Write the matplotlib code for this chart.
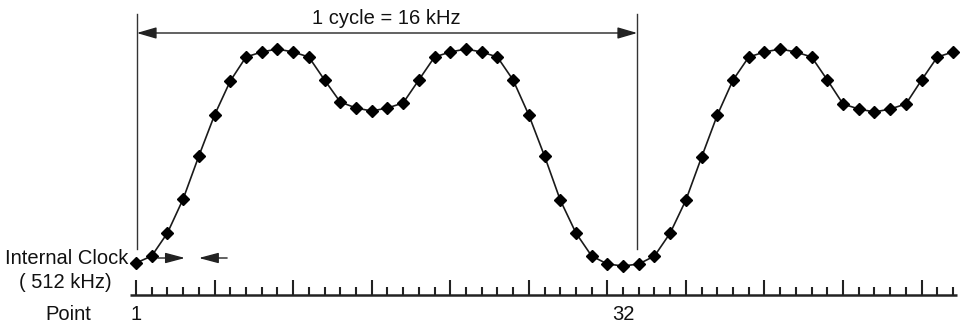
import matplotlib
matplotlib.use("Agg")
import matplotlib.pyplot as plt
import numpy as np

# ---- data ----
points = list(range(1, 54))
levels = [3, 10, 33, 67, 110, 151, 185, 209, 214, 217, 214, 209, 186, 164, 158, 155,
          158, 163, 186, 209, 214, 217, 214, 209, 186, 151, 110, 66, 33, 10, 2, 0,
          2, 10, 33, 66, 109, 151, 186, 209, 214, 217, 214, 209, 186, 162, 157, 154,
          157, 162, 186, 209, 214]
tick_label_points = [1, 32]
tick_labels = ["1", "32"]
cycle_start, cycle_end = 1.05, 32.9
cycle_label = "1 cycle = 16 kHz"

FONT = ["Liberation Sans Narrow", "Liberation Sans", "DejaVu Sans"]
plt.rcParams["font.family"] = FONT

fig = plt.figure(figsize=(9.6, 3.29), dpi=100)
ax = fig.add_axes([0, 0, 1, 1])
step = 15.712
ax.set_xlim(1 - 136 / step, 1 + 824 / step)
ax.set_ylim(-63, 266)
ax.axis("off")

# waveform
ax.plot(points, levels, color="#1a1a1a", lw=1.2, marker="D", markersize=5.8,
        markerfacecolor="black", markeredgecolor="black", zorder=3)

# vertical cycle markers
for xv in (cycle_start, cycle_end):
    ax.plot([xv, xv], [17, 252], color="#333333", lw=1.0)

# cycle arrow
ax.annotate("", xy=(cycle_start, 233), xytext=(cycle_end, 233),
            arrowprops=dict(arrowstyle="<|-|>,head_length=1.2,head_width=0.35",
                            color="#222222", lw=1.0, shrinkA=0, shrinkB=0))
ax.text(16.95, 247, cycle_label, ha="center", va="center", fontsize=14.5, color="#111111")

# clock interval arrows
ax.annotate("", xy=(4.12, 8), xytext=(2.4, 8),
            arrowprops=dict(arrowstyle="-|>,head_length=1.2,head_width=0.32",
                            color="#222222", lw=1.0, shrinkA=0, shrinkB=0))
ax.annotate("", xy=(5.0, 8), xytext=(6.8, 8),
            arrowprops=dict(arrowstyle="-|>,head_length=1.2,head_width=0.32",
                            color="#222222", lw=1.0, shrinkA=0, shrinkB=0))

# tick axis
base = -28.5
ax.plot([1 - 6 / step, 53 + 4 / step], [base, base], color="#222222", lw=1.8,
        solid_capstyle="butt")
for p in points:
    h = 15 if (p - 1) % 5 == 0 else 8
    ax.plot([p, p], [base, base + h], color="#222222", lw=1.5, solid_capstyle="butt")

for p, lab in zip(tick_label_points, tick_labels):
    ax.text(p, -49, lab, ha="center", va="center", fontsize=14.5, color="#111111")

# left labels
lx = 1 - 8 / step
ax.text(lx, 7, "Internal Clock", ha="right", va="center", fontsize=14.5, color="#111111")
ax.text(1 - 24 / step, -16, "( 512 kHz)", ha="right", va="center", fontsize=14.5,
        color="#111111")
ax.text(1 - 68 / step, -49, "Point", ha="center", va="center", fontsize=14.5,
        color="#111111")

fig.savefig("out.png", dpi=100)
